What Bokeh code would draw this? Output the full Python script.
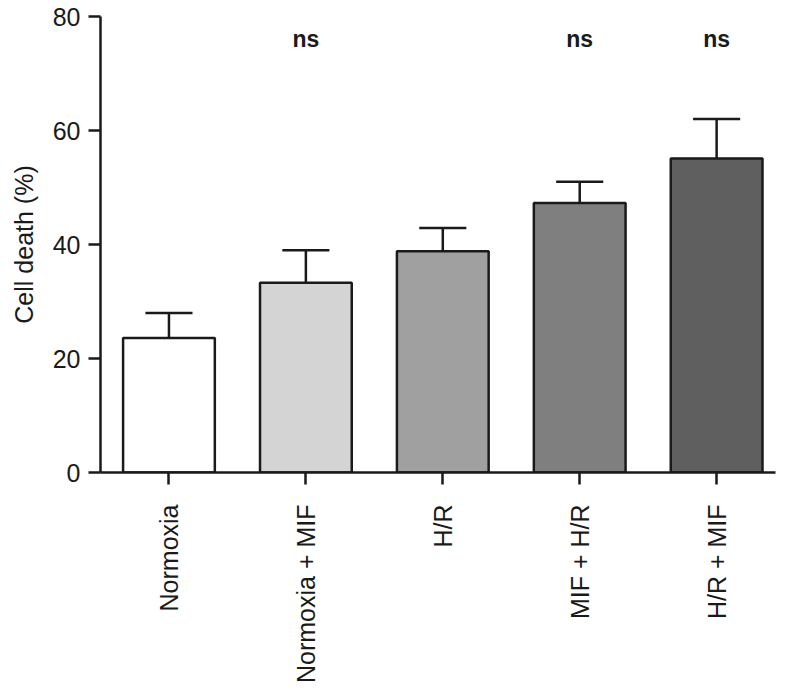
from bokeh.plotting import figure
from bokeh.models import FixedTicker, ColumnDataSource, Range1d
from bokeh.embed import file_html
from bokeh.resources import INLINE
from bokeh.core.properties import value

categories = ["Normoxia", "Normoxia + MIF", "H/R", "MIF + H/R", "H/R + MIF"]
means = [23.6, 33.3, 38.8, 47.3, 55.1]
sem = [4.4, 5.7, 4.1, 3.7, 6.9]
colors = ["#ffffff", "#d4d4d4", "#a0a0a0", "#7f7f7f", "#5f5f5f"]
annotations = ["", "ns", "", "ns", "ns"]
y_ticks = [0, 20, 40, 60, 80]
ann_y = 76

FONT = "Liberation Sans"
INK = "#1a1a1a"

xs = [i + 0.5 for i in range(len(categories))]
upper = [m + s for m, s in zip(means, sem)]
cap = 0.172
src = ColumnDataSource(dict(
    x=xs, top=means, upper=upper, color=colors, ann=annotations,
    cl=[x - cap for x in xs], cr=[x + cap for x in xs],
    ay=[ann_y] * len(xs),
))

p = figure(width=780, height=687, output_backend="svg", toolbar_location=None,
           x_range=Range1d(0, 4.93), y_range=Range1d(0, 80),
           min_border_left=100, min_border_right=5, min_border_top=16,
           min_border_bottom=215)
p.outline_line_color = None
p.xgrid.visible = False
p.ygrid.visible = False
p.background_fill_color = "white"

p.vbar(x="x", top="top", bottom=0, width=0.67, source=src, fill_color="color",
       line_color=INK, line_width=2.5)
p.segment(x0="x", y0="top", x1="x", y1="upper", source=src, line_color=INK, line_width=2.5)
p.segment(x0="cl", y0="upper", x1="cr", y1="upper", source=src, line_color=INK, line_width=2.5)
p.text(x="x", y="ay", text="ann", source=src, text_align="center", text_baseline="middle",
       text_font=value(FONT), text_font_size="23px", text_font_style="bold", text_color=INK)

for ax in (p.xaxis[0], p.yaxis[0]):
    ax.axis_line_color = INK
    ax.axis_line_width = 2.5
    ax.major_tick_line_color = INK
    ax.major_tick_line_width = 2.5
    ax.major_tick_out = 12
    ax.major_tick_in = 0
    ax.minor_tick_line_color = None
    ax.major_label_text_font = FONT
    ax.major_label_text_font_size = "25px"
    ax.major_label_text_color = INK

p.yaxis.ticker = FixedTicker(ticks=y_ticks)
p.yaxis.axis_label = "Cell death (%)"
p.yaxis.axis_label_text_font = FONT
p.yaxis.axis_label_text_font_size = "25px"
p.yaxis.axis_label_text_font_style = "normal"
p.yaxis.axis_label_text_color = INK
p.yaxis.major_label_standoff = 8
p.yaxis.axis_label_standoff = 12

p.xaxis.ticker = FixedTicker(ticks=xs)
p.xaxis.major_label_overrides = {x: c for x, c in zip(xs, categories)}
p.xaxis.major_label_orientation = 3.14159265 / 2
p.xaxis.major_label_standoff = 20

open("out.html", "w").write(file_html(p, INLINE))
